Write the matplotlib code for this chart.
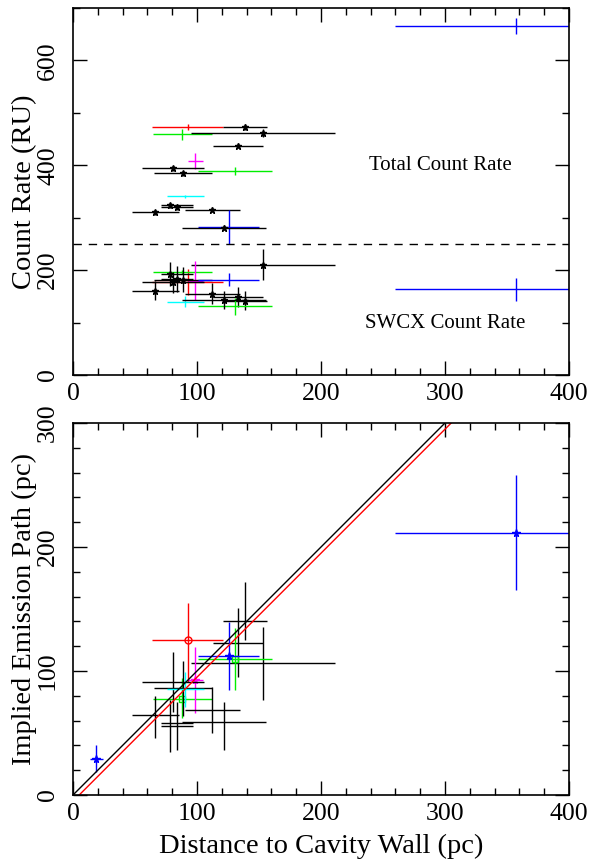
import numpy as np
import matplotlib
matplotlib.use("Agg")
import matplotlib.pyplot as plt
from matplotlib.ticker import MultipleLocator

plt.rcParams['font.family'] = 'serif'
plt.rcParams['font.serif'] = ['Liberation Serif', 'DejaVu Serif']

# one entry per sight line
colors = ['red', 'black', '#00ee00', 'black', 'black', 'magenta', 'black', 'black',
          '#00ee00', 'cyan', 'black', 'black', 'black', 'black', 'blue', 'black',
          'blue', 'blue']
dist = [92.5, 138.4, 88.2, 153.5, 133.3, 98.7, 80.4, 88.4,
        130.6, 90.6, 78.5, 83.9, 66.4, 112.4, 125.5, 121.5,
        357, 18.5]
dist_lo = [63.5, 121.2, 64.2, 95, 113, 92.4, 55.4, 65.3,
           101, 75.5, 70.7, 70.7, 47.3, 90.3, 100.5, 87.7,
           260, 14]
dist_hi = [121.2, 156.2, 111.8, 211, 153.5, 104.8, 105.6, 111.8,
           160.7, 105.6, 96.5, 96.5, 85.7, 134.7, 150.2, 155.6,
           450, 24]
total = [473, 473, 459, 461, 437.6, 408, 394, 384.7,
         388.5, 340.7, 323.4, 320.3, 310.6, 315.2, 282, 280.7,
         665, np.nan]
total_err = [6, 5, 10, 8, 5, 15, 5, 5,
             8, 3, 5, 5, 5, 5, 32, 5,
             15, np.nan]
swcx = [178, 142, 196.5, 210.5, 148, 180, 177, 181.8,
        130.8, 139.7, 193.3, 183, 160.8, 155, 181.8, 143,
        163.3, np.nan]
swcx_err = [25, 18, 3, 30, 19, 37, 20, 24,
            16, 10, 23, 24, 18, 20, 12, 17,
            22, np.nan]
path = [125, 140, 77.7, 106.2, 122.8, 92.5, 91.4, 86,
        109.7, 85.2, 57.8, 55.6, 64.5, 68.5, 112.3, 59.1,
        211.5, 29]
path_lo = [91, 125, 62, 76.6, 95, 66, 67, 64,
           84.7, 71, 35, 36, 46, 50, 84.7, 36,
           165, 18.8]
path_hi = [155, 172, 94.4, 135.7, 151, 119, 115.6, 108,
           134.7, 99.4, 76.6, 75, 80, 87.3, 139.8, 75,
           258, 40.3]
# markers in the lower panel (None = plain cross)
path_marker = ['o', None, 's', None, None, '*', None, None,
               's', None, None, None, None, None, '*', None,
               '*', '*']

fig = plt.figure(figsize=(5.89, 8.61), dpi=100)
ax1 = fig.add_axes([0.124, 0.5645, 0.842, 0.4262])
ax2 = fig.add_axes([0.124, 0.0767, 0.842, 0.4320])

for i in range(len(dist)):
    xe = [[dist[i] - dist_lo[i]], [dist_hi[i] - dist[i]]]
    mk = '*' if colors[i] == 'black' else None
    if not np.isnan(total[i]):
        ax1.errorbar(dist[i], total[i], xerr=xe, yerr=total_err[i], fmt='none',
                     ecolor=colors[i], elinewidth=1.0, capsize=0)
        ax1.errorbar(dist[i], swcx[i], xerr=xe, yerr=swcx_err[i], fmt='none',
                     ecolor=colors[i], elinewidth=1.0, capsize=0)
        if mk:
            ax1.plot([dist[i], dist[i]], [total[i], swcx[i]], ls='none',
                     marker=mk, ms=4.5, color='black')
    ye = [[path[i] - path_lo[i]], [path_hi[i] - path[i]]]
    ax2.errorbar(dist[i], path[i], xerr=xe, yerr=ye, fmt='none',
                 ecolor=colors[i], elinewidth=1.0, capsize=0)
    if path_marker[i]:
        filled = path_marker[i] == '*'
        ax2.plot(dist[i], path[i], marker=path_marker[i], ms=5.5 if filled else 5,
                 mfc=colors[i] if filled else 'none', mec=colors[i], mew=1.0,
                 ls='none')

ax1.axhline(250, color='black', ls=(0, (6, 5)), lw=1.0)
ax1.text(296, 400, 'Total Count Rate', fontsize=15, ha='center', va='center')
ax1.text(300, 99, 'SWCX Count Rate', fontsize=15, ha='center', va='center')

xx = np.array([0, 400])
ax2.plot(xx, xx, color='black', lw=1.0)
ax2.plot(xx, xx - 5, color='red', lw=1.0)

ax1.set_xlim(0, 400)
ax1.set_ylim(0, 700)
ax2.set_xlim(0, 400)
ax2.set_ylim(0, 300)

ax1.yaxis.set_major_locator(MultipleLocator(200))
ax1.yaxis.set_minor_locator(MultipleLocator(100))
ax2.yaxis.set_major_locator(MultipleLocator(100))
ax2.yaxis.set_minor_locator(MultipleLocator(20))
for ax in (ax1, ax2):
    ax.xaxis.set_major_locator(MultipleLocator(100))
    ax.xaxis.set_minor_locator(MultipleLocator(20))
    ax.tick_params(which='both', direction='in', top=True, right=True,
                   labelsize=18.5, width=1.0)
    ax.tick_params(which='major', length=10)
    ax.tick_params(which='minor', length=5)
    ax.tick_params(axis='y', pad=10)
    ax.tick_params(axis='x', pad=6)
    for lab in ax.get_yticklabels():
        lab.set_rotation(90)
        lab.set_va('center')
    for s in ax.spines.values():
        s.set_linewidth(1.2)

ax1.set_ylabel('Count Rate (RU)', fontsize=20.5, labelpad=0)
ax2.set_ylabel('Implied Emission Path (pc)', fontsize=20.5, labelpad=0)
ax2.set_xlabel('Distance to Cavity Wall (pc)', fontsize=20.5, labelpad=6)

fig.savefig('out.png', dpi=100)
